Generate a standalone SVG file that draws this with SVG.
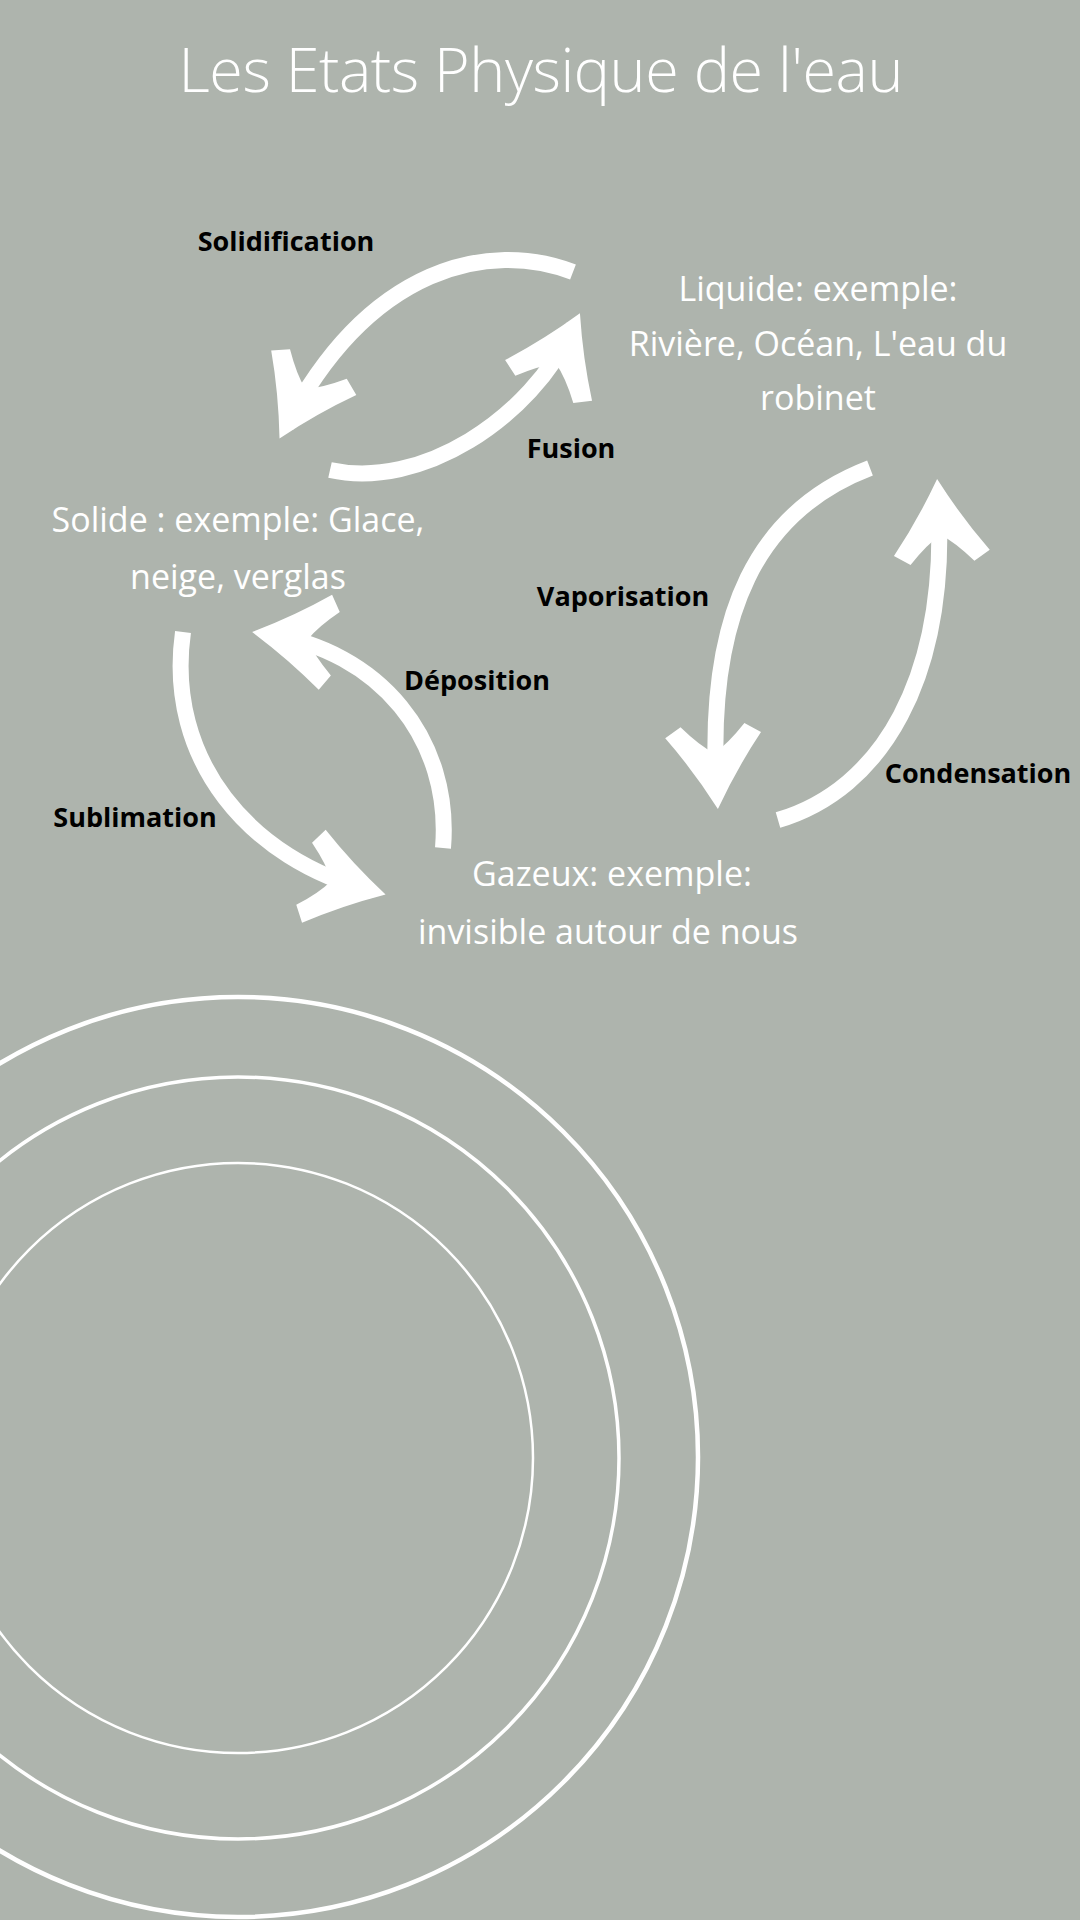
<svg xmlns="http://www.w3.org/2000/svg" width="1080" height="1920" viewBox="0 0 1080 1920">
<style>
.bg{fill:#aeb4ad}
.title{font-family:"Open Sans","Liberation Sans",sans-serif;font-weight:300;font-size:61px;fill:#ffffff;text-anchor:middle}
.state{font-family:"Open Sans","Liberation Sans",sans-serif;font-size:34px;fill:#ffffff;text-anchor:middle}
.lbl{font-family:"Open Sans","Liberation Sans",sans-serif;font-weight:700;font-size:27px;fill:#000000;text-anchor:middle}
.arrow{fill:none;stroke:#ffffff;stroke-width:16;stroke-linecap:butt;marker-end:url(#head)}
.ring{fill:none;stroke:#ffffff}
</style>
<defs>
<marker id="head" markerUnits="userSpaceOnUse" markerWidth="200" markerHeight="200" refX="0" refY="0" orient="auto" overflow="visible">
<path d="M14,0 Q-26,-22 -60,-48 L-70,-32 Q-50,-14 -42,0 Q-50,14 -70,32 L-60,48 Q-26,22 14,0 Z" fill="#ffffff"/>
</marker>
</defs>
<rect class="bg" x="0" y="0" width="1080" height="1920"/>
<g id="title"><text class="title" x="541" y="92" textLength="725">Les Etats Physique de l'eau</text></g>
<g id="liquide">
<text class="state" x="818" y="301">Liquide: exemple:</text>
<text class="state" x="818" y="356">Rivière, Océan, L'eau du</text>
<text class="state" x="818" y="410">robinet</text>
</g>
<g id="solide">
<text class="state" x="238" y="532">Solide : exemple: Glace,</text>
<text class="state" x="238" y="589">neige, verglas</text>
</g>
<g id="gazeux">
<text class="state" x="612" y="886">Gazeux: exemple:</text>
<text class="state" x="608" y="944">invisible autour de nous</text>
</g>
<g id="connectors">
<path id="solidification" class="arrow" d="M573,272 C490,240 370,265 286,426"/>
<path id="fusion" class="arrow" d="M330,470 C420,490 530,420 574,326"/>
<path id="vaporisation" class="arrow" d="M870,468 C760,510 705,610 717,795"/>
<path id="condensation" class="arrow" d="M778,820 C880,790 950,680 938,493"/>
<path id="deposition" class="arrow" d="M443,848 C452,740 380,650 266,634"/>
<path id="sublimation" class="arrow" d="M183,632 C165,760 250,860 372,891"/>
<text class="lbl" x="286" y="251">Solidification</text>
<text class="lbl" x="571" y="458">Fusion</text>
<text class="lbl" x="623" y="606">Vaporisation</text>
<text class="lbl" x="477" y="690">Déposition</text>
<text class="lbl" x="135" y="827">Sublimation</text>
<text class="lbl" x="978" y="783">Condensation</text>
</g>
<g id="rings">
<circle class="ring" cx="238" cy="1457" r="460" stroke-width="4.5"/>
<circle class="ring" cx="238" cy="1458" r="381" stroke-width="3.5"/>
<circle class="ring" cx="238" cy="1458" r="295" stroke-width="2.5"/>
</g>
</svg>
